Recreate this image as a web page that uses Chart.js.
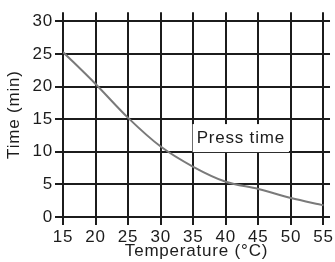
<!DOCTYPE html>
<html>
<head>
<meta charset="utf-8">
<script src="https://cdn.jsdelivr.net/npm/chart.js@4"></script>
<style>
  html, body { margin: 0; padding: 0; background: #fff; }
  #wrap { width: 335px; height: 262px; }
</style>
</head>
<body>
<div id="wrap"><canvas id="pressChart"></canvas></div>
<script>
'use strict';

// Data
const temperatures = [15, 20, 25, 30, 35, 40, 45, 50, 55];
const pressTimes = [25.3, 20.4, 15.2, 10.8, 7.7, 5.4, 4.3, 2.9, 1.8];
const xTickValues = [15, 20, 25, 30, 35, 40, 45, 50, 55];
const yTickValues = [0, 5, 10, 15, 20, 25, 30];
const seriesLabel = 'Press time';
const xTitle = 'Temperature (°C)';
const yTitle = 'Time (min)';

const ink = '#1c1c1c';
const font = { family: '"Liberation Sans", Arial, sans-serif', size: 17 };

// The scanned lettering is a little wider than Arial, so space it out
const wideText = {
    id: 'wideText',
    beforeInit(chart) { chart.ctx.letterSpacing = '0.8px'; },
    beforeDraw(chart) { chart.ctx.letterSpacing = '0.8px'; }
};

// Draws the "Press time" tag inside the plot, on a white box
const seriesTag = {
    id: 'seriesTag',
    afterDatasetsDraw(chart) {
        const { ctx, scales } = chart;
        const cx = scales.x.getPixelForValue(42.3);
        const cy = scales.y.getPixelForValue(12.1);
        ctx.save();
        ctx.font = `${font.size}px ${font.family}`;
        const w = ctx.measureText(seriesLabel).width + 8;
        ctx.fillStyle = '#fff';
        ctx.fillRect(cx - w / 2, cy - 14, w, 28);
        ctx.fillStyle = ink;
        ctx.textAlign = 'center';
        ctx.textBaseline = 'middle';
        ctx.fillText(seriesLabel, cx, cy);
        ctx.restore();
    }
};

function keepTicks(values) {
    return scale => { scale.ticks = values.map(v => ({ value: v })); };
}

new Chart(document.getElementById('pressChart'), {
    type: 'line',
    data: {
        labels: temperatures,
        datasets: [{
            label: seriesLabel,
            data: temperatures.map((t, i) => ({ x: t, y: pressTimes[i] })),
            borderColor: '#7a7a7a',
            borderWidth: 2,
            pointRadius: 0,
            fill: false,
            cubicInterpolationMode: 'monotone'
        }]
    },
    options: {
        responsive: true,
        maintainAspectRatio: false,
        animation: false,
        layout: { padding: { top: 12, right: 2, left: 0, bottom: 0 } },
        plugins: { legend: { display: false }, tooltip: { enabled: false } },
        scales: {
            x: {
                type: 'linear',
                min: 15,
                max: 56,
                afterBuildTicks: keepTicks(xTickValues),
                afterFit: s => { s.height = 45; },
                border: { display: false },
                grid: { color: ink, lineWidth: 2, tickLength: 8, tickColor: ink },
                ticks: { color: ink, font, padding: 2, maxRotation: 0 },
                title: { display: true, text: xTitle, color: ink, font, padding: { top: 0, bottom: 0 } }
            },
            y: {
                min: 0,
                max: 31.4,
                afterBuildTicks: keepTicks(yTickValues),
                afterFit: s => { s.width = 63; },
                border: { display: false },
                grid: { color: ink, lineWidth: 2, tickLength: 8, tickColor: ink },
                ticks: { color: ink, font, padding: 2 },
                title: { display: true, text: yTitle, color: ink, font, padding: { top: 4, bottom: 0 } }
            }
        }
    },
    plugins: [wideText, seriesTag]
});
</script>
</body>
</html>
